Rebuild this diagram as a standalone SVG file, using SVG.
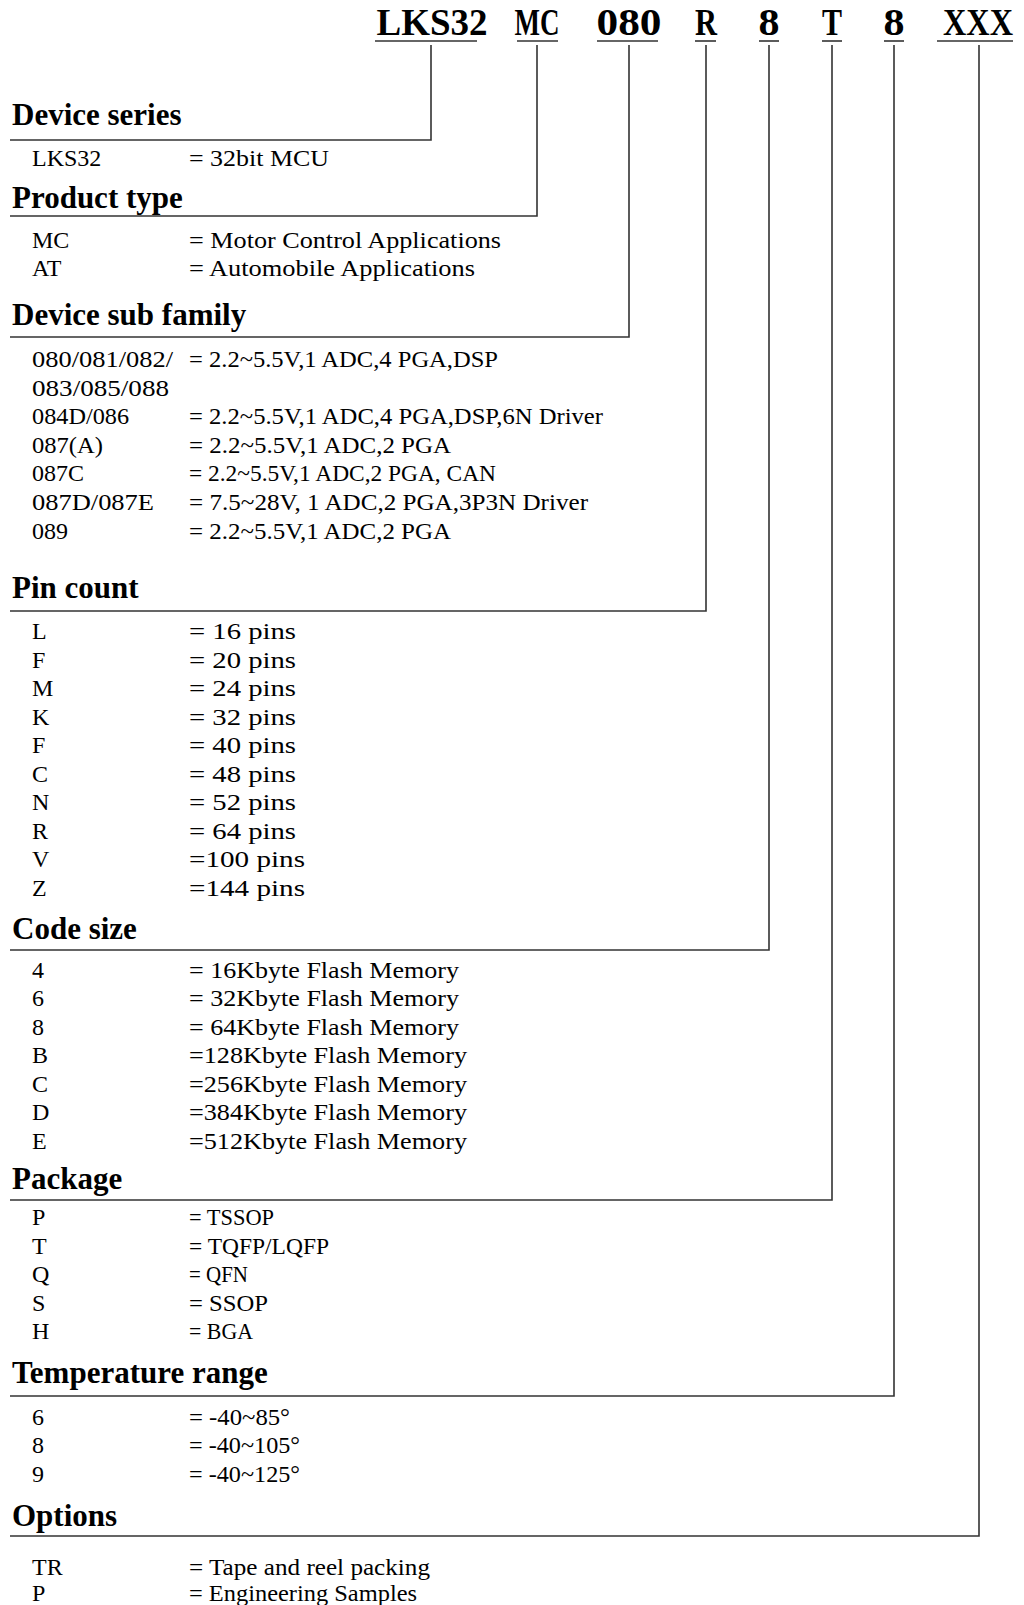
<svg xmlns="http://www.w3.org/2000/svg" width="1024" height="1605" viewBox="0 0 1024 1605">
<style>
.hd{font-family:"Liberation Serif",serif;font-weight:bold;font-size:37px;fill:#000;text-anchor:middle}
.tt{font-family:"Liberation Serif",serif;font-weight:bold;font-size:31px;fill:#000}
.tx{font-family:"Liberation Serif",serif;font-size:24px;fill:#000}
.ln{fill:none;stroke:#333;stroke-width:1.6}
.ul{stroke:#333;stroke-width:1.6}
</style>
<rect width="1024" height="1605" fill="#fff"/>
<g id="header">
<text class="hd" x="432" y="35" textLength="111" lengthAdjust="spacingAndGlyphs">LKS32</text>
<text class="hd" x="537" y="35" textLength="45" lengthAdjust="spacingAndGlyphs">MC</text>
<text class="hd" x="629" y="35" textLength="65" lengthAdjust="spacingAndGlyphs">080</text>
<text class="hd" x="706" y="35" textLength="22" lengthAdjust="spacingAndGlyphs">R</text>
<text class="hd" x="769" y="35" textLength="21" lengthAdjust="spacingAndGlyphs">8</text>
<text class="hd" x="832" y="35" textLength="20" lengthAdjust="spacingAndGlyphs">T</text>
<text class="hd" x="894" y="35" textLength="21" lengthAdjust="spacingAndGlyphs">8</text>
<text class="hd" x="978" y="35" textLength="70" lengthAdjust="spacingAndGlyphs">XXX</text>
<line class="ul" x1="375" y1="41" x2="477" y2="41"/>
<line class="ul" x1="517" y1="41" x2="558" y2="41"/>
<line class="ul" x1="597" y1="41" x2="658" y2="41"/>
<line class="ul" x1="695" y1="41" x2="716" y2="41"/>
<line class="ul" x1="759" y1="41" x2="779" y2="41"/>
<line class="ul" x1="822" y1="41" x2="842" y2="41"/>
<line class="ul" x1="884" y1="41" x2="904" y2="41"/>
<line class="ul" x1="937" y1="41" x2="1013" y2="41"/>
</g>
<g id="connectors">
<polyline class="ln" points="431,45 431,140 10,140"/>
<polyline class="ln" points="537,45 537,216 10,216"/>
<polyline class="ln" points="629,45 629,337 10,337"/>
<polyline class="ln" points="706,45 706,611 10,611"/>
<polyline class="ln" points="769,45 769,950 10,950"/>
<polyline class="ln" points="832,45 832,1200 10,1200"/>
<polyline class="ln" points="894,45 894,1396 10,1396"/>
<polyline class="ln" points="979,45 979,1536 10,1536"/>
</g>
<g id="device-series">
<text class="tt" x="12" y="125">Device series</text>
<text class="tx" x="32" y="166">LKS32</text><text class="tx" x="189" y="166" textLength="140" lengthAdjust="spacingAndGlyphs">= 32bit MCU</text>
</g>
<g id="product-type">
<text class="tt" x="12" y="208">Product type</text>
<text class="tx" x="32" y="248">MC</text><text class="tx" x="189" y="248" textLength="312" lengthAdjust="spacingAndGlyphs">= Motor Control Applications</text>
<text class="tx" x="32" y="276">AT</text><text class="tx" x="189" y="276" textLength="286" lengthAdjust="spacingAndGlyphs">= Automobile Applications</text>
</g>
<g id="device-sub-family">
<text class="tt" x="12" y="325">Device sub family</text>
<text class="tx" x="32" y="367" textLength="141" lengthAdjust="spacingAndGlyphs">080/081/082/</text><text class="tx" x="189" y="367" textLength="309" lengthAdjust="spacingAndGlyphs">= 2.2~5.5V,1 ADC,4 PGA,DSP</text>
<text class="tx" x="32" y="396" textLength="137" lengthAdjust="spacingAndGlyphs">083/085/088</text>
<text class="tx" x="32" y="424" textLength="97" lengthAdjust="spacingAndGlyphs">084D/086</text><text class="tx" x="189" y="424" textLength="414" lengthAdjust="spacingAndGlyphs">= 2.2~5.5V,1 ADC,4 PGA,DSP,6N Driver</text>
<text class="tx" x="32" y="453" textLength="71" lengthAdjust="spacingAndGlyphs">087(A)</text><text class="tx" x="189" y="453" textLength="262" lengthAdjust="spacingAndGlyphs">= 2.2~5.5V,1 ADC,2 PGA</text>
<text class="tx" x="32" y="481">087C</text><text class="tx" x="189" y="481" textLength="307" lengthAdjust="spacingAndGlyphs">= 2.2~5.5V,1 ADC,2 PGA, CAN</text>
<text class="tx" x="32" y="510" textLength="122" lengthAdjust="spacingAndGlyphs">087D/087E</text><text class="tx" x="189" y="510" textLength="399" lengthAdjust="spacingAndGlyphs">= 7.5~28V, 1 ADC,2 PGA,3P3N Driver</text>
<text class="tx" x="32" y="539">089</text><text class="tx" x="189" y="539" textLength="262" lengthAdjust="spacingAndGlyphs">= 2.2~5.5V,1 ADC,2 PGA</text>
</g>
<g id="pin-count">
<text class="tt" x="12" y="598">Pin count</text>
<text class="tx" x="32" y="639">L</text><text class="tx" x="189" y="639" textLength="107" lengthAdjust="spacingAndGlyphs">= 16 pins</text>
<text class="tx" x="32" y="668">F</text><text class="tx" x="189" y="668" textLength="107" lengthAdjust="spacingAndGlyphs">= 20 pins</text>
<text class="tx" x="32" y="696">M</text><text class="tx" x="189" y="696" textLength="107" lengthAdjust="spacingAndGlyphs">= 24 pins</text>
<text class="tx" x="32" y="725">K</text><text class="tx" x="189" y="725" textLength="107" lengthAdjust="spacingAndGlyphs">= 32 pins</text>
<text class="tx" x="32" y="753">F</text><text class="tx" x="189" y="753" textLength="107" lengthAdjust="spacingAndGlyphs">= 40 pins</text>
<text class="tx" x="32" y="782">C</text><text class="tx" x="189" y="782" textLength="107" lengthAdjust="spacingAndGlyphs">= 48 pins</text>
<text class="tx" x="32" y="810">N</text><text class="tx" x="189" y="810" textLength="107" lengthAdjust="spacingAndGlyphs">= 52 pins</text>
<text class="tx" x="32" y="839">R</text><text class="tx" x="189" y="839" textLength="107" lengthAdjust="spacingAndGlyphs">= 64 pins</text>
<text class="tx" x="32" y="867">V</text><text class="tx" x="189" y="867" textLength="116" lengthAdjust="spacingAndGlyphs">=100 pins</text>
<text class="tx" x="32" y="896">Z</text><text class="tx" x="189" y="896" textLength="116" lengthAdjust="spacingAndGlyphs">=144 pins</text>
</g>
<g id="code-size">
<text class="tt" x="12" y="939">Code size</text>
<text class="tx" x="32" y="978">4</text><text class="tx" x="189" y="978" textLength="270" lengthAdjust="spacingAndGlyphs">= 16Kbyte Flash Memory</text>
<text class="tx" x="32" y="1006">6</text><text class="tx" x="189" y="1006" textLength="270" lengthAdjust="spacingAndGlyphs">= 32Kbyte Flash Memory</text>
<text class="tx" x="32" y="1035">8</text><text class="tx" x="189" y="1035" textLength="270" lengthAdjust="spacingAndGlyphs">= 64Kbyte Flash Memory</text>
<text class="tx" x="32" y="1063">B</text><text class="tx" x="189" y="1063" textLength="278" lengthAdjust="spacingAndGlyphs">=128Kbyte Flash Memory</text>
<text class="tx" x="32" y="1092">C</text><text class="tx" x="189" y="1092" textLength="278" lengthAdjust="spacingAndGlyphs">=256Kbyte Flash Memory</text>
<text class="tx" x="32" y="1120">D</text><text class="tx" x="189" y="1120" textLength="278" lengthAdjust="spacingAndGlyphs">=384Kbyte Flash Memory</text>
<text class="tx" x="32" y="1149">E</text><text class="tx" x="189" y="1149" textLength="278" lengthAdjust="spacingAndGlyphs">=512Kbyte Flash Memory</text>
</g>
<g id="package">
<text class="tt" x="12" y="1189">Package</text>
<text class="tx" x="32" y="1225">P</text><text class="tx" x="189" y="1225" textLength="85" lengthAdjust="spacingAndGlyphs">= TSSOP</text>
<text class="tx" x="32" y="1254">T</text><text class="tx" x="189" y="1254" textLength="140" lengthAdjust="spacingAndGlyphs">= TQFP/LQFP</text>
<text class="tx" x="32" y="1282">Q</text><text class="tx" x="189" y="1282" textLength="59" lengthAdjust="spacingAndGlyphs">= QFN</text>
<text class="tx" x="32" y="1311">S</text><text class="tx" x="189" y="1311" textLength="79" lengthAdjust="spacingAndGlyphs">= SSOP</text>
<text class="tx" x="32" y="1339">H</text><text class="tx" x="189" y="1339" textLength="64" lengthAdjust="spacingAndGlyphs">= BGA</text>
</g>
<g id="temperature-range">
<text class="tt" x="12" y="1383">Temperature range</text>
<text class="tx" x="32" y="1425">6</text><text class="tx" x="189" y="1425" textLength="101" lengthAdjust="spacingAndGlyphs">= -40~85°</text>
<text class="tx" x="32" y="1453">8</text><text class="tx" x="189" y="1453" textLength="111" lengthAdjust="spacingAndGlyphs">= -40~105°</text>
<text class="tx" x="32" y="1482">9</text><text class="tx" x="189" y="1482" textLength="111" lengthAdjust="spacingAndGlyphs">= -40~125°</text>
</g>
<g id="options">
<text class="tt" x="12" y="1526">Options</text>
<text class="tx" x="32" y="1575">TR</text><text class="tx" x="189" y="1575" textLength="241" lengthAdjust="spacingAndGlyphs">= Tape and reel packing</text>
<text class="tx" x="32" y="1601">P</text><text class="tx" x="189" y="1601" textLength="228" lengthAdjust="spacingAndGlyphs">= Engineering Samples</text>
</g>
</svg>
